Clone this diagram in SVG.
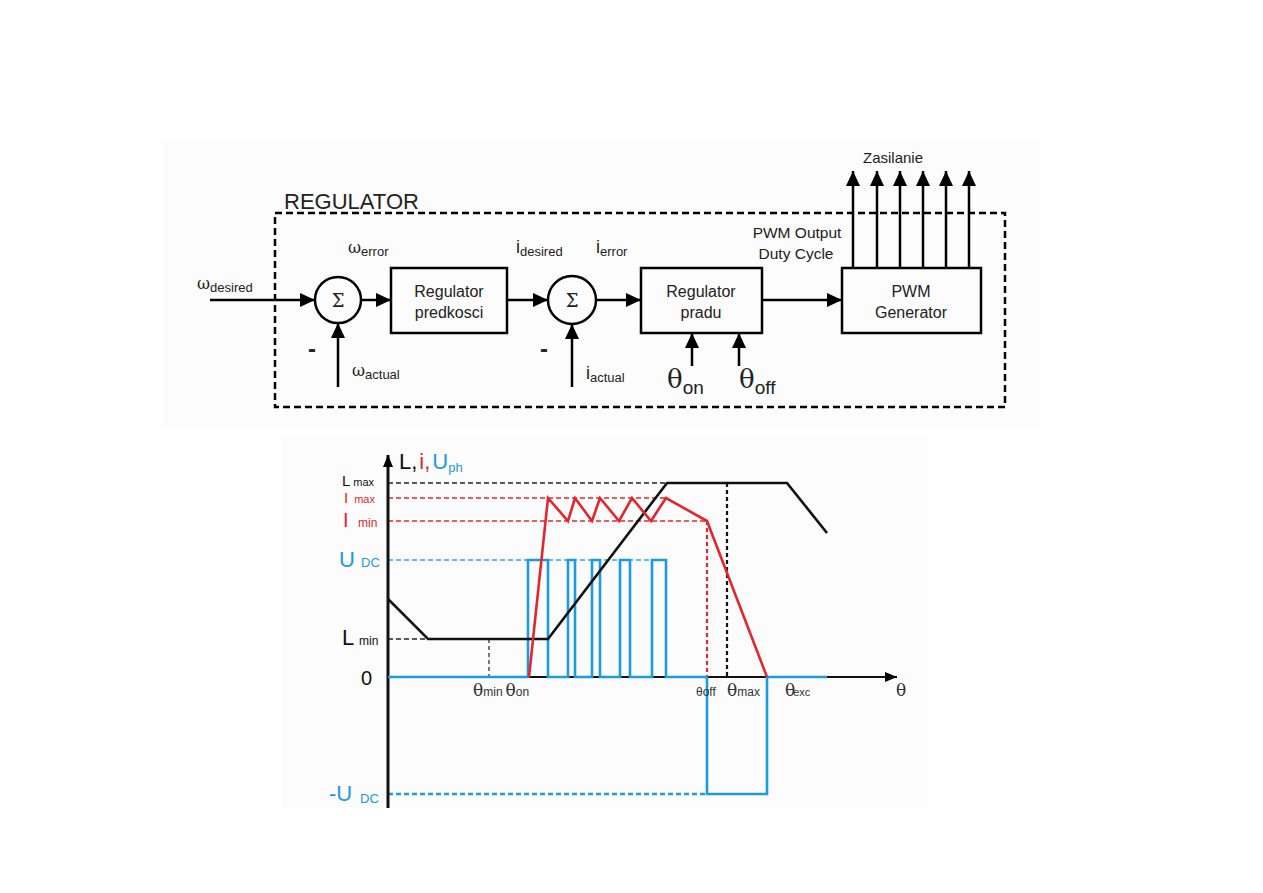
<svg xmlns="http://www.w3.org/2000/svg" width="1263" height="893" viewBox="0 0 1263 893">
<defs>
<style>
text{font-family:"Liberation Sans",Arial,sans-serif;fill:#222}
.blk{fill:none;stroke:#000;stroke-width:2.5}
.box{fill:none;stroke:#000;stroke-width:2.5}
.lbl{font-size:16px;text-anchor:middle}
.sub{font-size:13px}
.sym{font-family:"DejaVu Serif","Liberation Serif",serif;font-size:17px}
.red{fill:#e3262b}
.blu{fill:#1d9ae0}
</style>
<marker id="ah" viewBox="0 0 15 14" refX="15" refY="7" markerWidth="15" markerHeight="14" orient="auto" markerUnits="userSpaceOnUse"><path d="M0,0 L15,7 L0,14 z" fill="#000"/></marker>
<marker id="ahs" viewBox="0 0 12 10" refX="12" refY="5" markerWidth="12" markerHeight="10" orient="auto" markerUnits="userSpaceOnUse"><path d="M0,0 L12,5 L0,10 z" fill="#000"/></marker>
</defs>
<rect x="0" y="0" width="1263" height="893" fill="#fff"/>
<rect x="163" y="140" width="877" height="288" fill="#fcfcfc"/>
<rect x="282" y="436" width="646" height="372" fill="#fcfcfc"/>

<!-- TOP: block diagram -->
<g id="regulator-frame">
<rect x="275" y="213" width="730" height="194" fill="none" stroke="#000" stroke-width="2.5" stroke-dasharray="7,4"/>
<text x="284" y="209" style="font-size:22px">REGULATOR</text>
</g>

<g id="sum1">
<circle cx="338" cy="300" r="23" fill="none" stroke="#000" stroke-width="2.5"/>
<text x="338" y="307" class="sym" text-anchor="middle" style="font-size:18px">Σ</text>
<text x="308" y="357" style="font-size:24px;font-weight:bold">-</text>
</g>
<g id="box-regulator-predkosci">
<rect x="391" y="268" width="116" height="65" class="box"/>
<text x="449" y="297" class="lbl">Regulator</text>
<text x="449" y="318" class="lbl">predkosci</text>
</g>
<g id="sum2">
<circle cx="572" cy="300" r="24" fill="none" stroke="#000" stroke-width="2.5"/>
<text x="572" y="307" class="sym" text-anchor="middle" style="font-size:18px">Σ</text>
<text x="540" y="357" style="font-size:24px;font-weight:bold">-</text>
</g>
<g id="box-regulator-pradu">
<rect x="641" y="268" width="121" height="65" class="box"/>
<text x="701" y="297" class="lbl">Regulator</text>
<text x="701" y="318" class="lbl">pradu</text>
</g>
<g id="box-pwm-generator">
<rect x="842" y="268" width="139" height="65" class="box"/>
<text x="911" y="297" class="lbl">PWM</text>
<text x="911" y="318" class="lbl">Generator</text>
</g>

<g id="labels-top">
<text x="197" y="289" class="sym" style="font-size:16px">ω<tspan class="sub" style="font-family:'Liberation Sans',Arial,sans-serif" dy="3">desired</tspan></text>
<text x="348" y="253" class="sym" style="font-size:16px">ω<tspan class="sub" style="font-family:'Liberation Sans',Arial,sans-serif" dy="3">error</tspan></text>
<text x="352" y="376" class="sym" style="font-size:16px">ω<tspan class="sub" style="font-family:'Liberation Sans',Arial,sans-serif" dy="3">actual</tspan></text>
<text x="516" y="253" style="font-size:18px">i<tspan class="sub" dy="3">desired</tspan></text>
<text x="596" y="253" style="font-size:18px">i<tspan class="sub" dy="3">error</tspan></text>
<text x="586" y="379" style="font-size:18px">i<tspan class="sub" dy="3">actual</tspan></text>
<text x="667" y="388" class="sym" style="font-size:26px">θ<tspan style="font-family:'Liberation Sans',Arial,sans-serif;font-size:19px" dy="6">on</tspan></text>
<text x="739" y="388" class="sym" style="font-size:26px">θ<tspan style="font-family:'Liberation Sans',Arial,sans-serif;font-size:19px" dy="6">off</tspan></text>
<text x="797" y="238" class="lbl" style="font-size:15.5px">PWM Output</text>
<text x="796" y="259" class="lbl" style="font-size:15.5px">Duty Cycle</text>
<text x="893" y="163" class="lbl" style="font-size:15px">Zasilanie</text>
</g>

<g id="connectors-top">
<line x1="210" y1="300" x2="315" y2="300" class="blk" marker-end="url(#ah)"/>
<line x1="338" y1="387" x2="338" y2="323" class="blk" marker-end="url(#ah)"/>
<line x1="361" y1="300" x2="391" y2="300" class="blk" marker-end="url(#ah)"/>
<line x1="507" y1="300" x2="548" y2="300" class="blk" marker-end="url(#ah)"/>
<line x1="572" y1="387" x2="572" y2="324" class="blk" marker-end="url(#ah)"/>
<line x1="596" y1="300" x2="641" y2="300" class="blk" marker-end="url(#ah)"/>
<line x1="692" y1="366" x2="692" y2="333" class="blk" marker-end="url(#ah)"/>
<line x1="739" y1="366" x2="739" y2="333" class="blk" marker-end="url(#ah)"/>
<line x1="762" y1="300" x2="842" y2="300" class="blk" marker-end="url(#ah)"/>
<line x1="853" y1="268" x2="853" y2="171" class="blk" marker-end="url(#ah)"/>
<line x1="877" y1="268" x2="877" y2="171" class="blk" marker-end="url(#ah)"/>
<line x1="900" y1="268" x2="900" y2="171" class="blk" marker-end="url(#ah)"/>
<line x1="923" y1="268" x2="923" y2="171" class="blk" marker-end="url(#ah)"/>
<line x1="946" y1="268" x2="946" y2="171" class="blk" marker-end="url(#ah)"/>
<line x1="969" y1="268" x2="969" y2="171" class="blk" marker-end="url(#ah)"/>
</g>

<!-- BOTTOM: chart -->
<g id="chart-guides">
<line x1="388" y1="483" x2="667" y2="483" stroke="#222" stroke-width="1.3" stroke-dasharray="5,3"/>
<line x1="388" y1="498" x2="666" y2="498" stroke="#e3262b" stroke-width="1.3" stroke-dasharray="5,3"/>
<line x1="388" y1="521" x2="707" y2="521" stroke="#e3262b" stroke-width="1.3" stroke-dasharray="5,3"/>
<line x1="388" y1="560" x2="666" y2="560" stroke="#2ea6ea" stroke-width="1.3" stroke-dasharray="5,3"/>
<line x1="388" y1="639" x2="428" y2="639" stroke="#222" stroke-width="1.3" stroke-dasharray="5,3"/>
<line x1="489" y1="639" x2="489" y2="677" stroke="#222" stroke-width="1.2" stroke-dasharray="4,3"/>
<line x1="727" y1="483" x2="727" y2="677" stroke="#111" stroke-width="2.2" stroke-dasharray="4,3"/>
<line x1="707" y1="521" x2="707" y2="677" stroke="#e3262b" stroke-width="2.2" stroke-dasharray="4,3"/>
<line x1="388" y1="794" x2="707" y2="794" stroke="#1d9ae0" stroke-width="2.4" stroke-dasharray="5,3"/>
</g>

<g id="chart-axes">
<line x1="388" y1="808" x2="388" y2="455" stroke="#111" stroke-width="3" marker-end="url(#ahs)"/>
<line x1="388" y1="677" x2="897" y2="677" stroke="#111" stroke-width="1.8" marker-end="url(#ahs)"/>
</g>

<g id="curve-uph">
<path d="M388,677 H528 V560 H548 V677 H568 V560 H575 V677 H592 V560 H600 V677 H620 V560 H630 V677 H652 V560 H666 V677 H707 V794 H767 V677 H827" fill="none" stroke="#1d9ae0" stroke-width="2.6" stroke-linejoin="miter"/>
</g>
<g id="curve-L">
<polyline points="388,599 428,639 548,639 667,483 787,483 827,533" fill="none" stroke="#111" stroke-width="2.6"/>
</g>
<g id="curve-i">
<polyline points="529,677 548,498 568,521 575,498 592,521 600,498 619,521 632,498 651,521 666,498 707,521 767,677" fill="none" stroke="#e3262b" stroke-width="2.6" stroke-linejoin="miter"/>
</g>

<g id="chart-labels">
<text x="399" y="469" style="font-size:22px;fill:#111">L,<tspan class="red" dx="2">i,</tspan><tspan class="blu" dx="2">U</tspan><tspan class="blu" style="font-size:13px" dy="3">ph</tspan></text>
<text x="342" y="486" style="font-size:15px;fill:#111">L<tspan style="font-size:11px" dx="3">max</tspan></text>
<text x="344" y="503" style="font-size:15px" class="red">I<tspan style="font-size:11px" dx="6">max</tspan></text>
<text x="343" y="527" style="font-size:20px" class="red">I</text>
<text x="358" y="527" style="font-size:12px" class="red">min</text>
<text x="339" y="567" style="font-size:22px" class="blu">U</text>
<text x="361" y="567" style="font-size:13px" class="blu">DC</text>
<text x="342" y="645" style="font-size:22px;fill:#111">L</text>
<text x="359" y="645" style="font-size:12px;fill:#111">min</text>
<text x="361" y="685" style="font-size:20px;fill:#111">0</text>
<text x="329" y="801" style="font-size:22px" class="blu">-U</text>
<text x="360" y="803" style="font-size:13px" class="blu">DC</text>
<text x="473" y="696" class="sym" style="font-size:17px;fill:#333">θ<tspan style="font-family:'Liberation Sans',Arial,sans-serif;font-size:12px">min</tspan><tspan dx="3">θ</tspan><tspan style="font-family:'Liberation Sans',Arial,sans-serif;font-size:12px">on</tspan></text>
<text x="696" y="696" style="font-size:12px;fill:#333">θoff</text>
<text x="727" y="696" class="sym" style="font-size:17px;fill:#333">θ<tspan style="font-family:'Liberation Sans',Arial,sans-serif;font-size:12px">max</tspan></text>
<text x="785" y="696" class="sym" style="font-size:17px;fill:#333">θ<tspan style="font-family:'Liberation Sans',Arial,sans-serif;font-size:11px" dx="-2">exc</tspan></text>
<text x="896" y="696" class="sym" style="font-size:17px;fill:#333">θ</text>
</g>
</svg>
